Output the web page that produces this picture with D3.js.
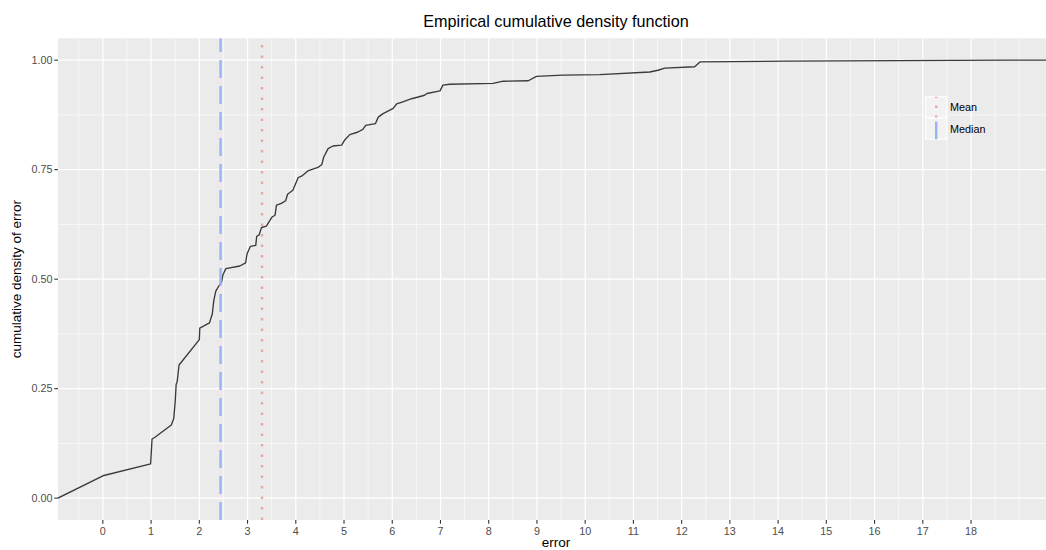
<!DOCTYPE html>
<html lang="en">
  <head>
    <meta charset="UTF-8" />
    <title>Empirical cumulative density function</title>
    <script src="https://d3js.org/d3.v7.min.js"></script>
    <style>
      body {
        margin: 0;
        background: #fff;
      }
      text {
        font-family: "Liberation Sans", Arial, Helvetica, sans-serif;
      }
      .tick-label {
        font-size: 10.8px;
        fill: #4d4d4d;
      }
      .axis-title {
        font-size: 13.5px;
        fill: #000;
      }
      .chart-title {
        font-size: 16.2px;
        fill: #000;
        text-anchor: middle;
      }
      .legend-label {
        font-size: 10.8px;
        fill: #000;
      }
    </style>
  </head>
  <body>
    <svg id="chart" width="1046" height="550"></svg>

    <script>
      // ECDF of error; -Infinity / Infinity pad the ends like stat_ecdf
      var errorValues = [
        -Infinity, 0.0, 0.99, 1.02, 1.08, 1.42, 1.47, 1.5, 1.52, 1.54, 1.58,
        2.0, 2.01, 2.21, 2.23, 2.27, 2.3, 2.34, 2.39, 2.46, 2.49, 2.55, 2.84,
        2.96, 2.99, 3.06, 3.17, 3.19, 3.24, 3.29, 3.39, 3.45, 3.51, 3.57, 3.6,
        3.7, 3.79, 3.83, 3.94, 4.05, 4.12, 4.25, 4.46, 4.54, 4.58, 4.67, 4.77,
        4.95, 5.01, 5.12, 5.29, 5.39, 5.45, 5.65, 5.71, 5.81, 6.02, 6.09, 6.22,
        6.4, 6.54, 6.67, 6.72, 6.99, 7.05, 7.19, 8.09, 8.3, 8.82, 8.99, 9.54,
        10.3, 11.34, 11.51, 11.65, 12.27, 12.38, 14.18, 18.78, Infinity
      ];
      var cumDensity = [
        0, 0.051, 0.078, 0.135, 0.139, 0.167, 0.182, 0.22, 0.26, 0.265, 0.304,
        0.362, 0.388, 0.4, 0.407, 0.421, 0.451, 0.472, 0.482, 0.493, 0.51,
        0.524, 0.53, 0.537, 0.558, 0.575, 0.577, 0.598, 0.601, 0.618, 0.621,
        0.632, 0.642, 0.646, 0.669, 0.673, 0.679, 0.694, 0.703, 0.732, 0.735,
        0.747, 0.755, 0.762, 0.779, 0.798, 0.804, 0.806, 0.817, 0.83, 0.836,
        0.842, 0.851, 0.855, 0.87, 0.878, 0.89, 0.9, 0.905, 0.912, 0.916, 0.92,
        0.924, 0.93, 0.943, 0.945, 0.947, 0.952, 0.953, 0.963, 0.966, 0.967,
        0.973, 0.977, 0.982, 0.985, 0.996, 0.998, 1.0, 1.0
      ];

      var meanError = 3.3;
      var medianError = 2.44;

      var xTicks = d3.range(0, 19); // 0 .. 18
      var yTicks = [0, 0.25, 0.5, 0.75, 1];
      var legendLabels = ["Mean", "Median"];

      var svg = d3.select("#chart");
      var panel = { left: 58, right: 1054, top: 38.3, bottom: 520 };

      var x = d3.scaleLinear().domain([-0.93, 19.72]).range([panel.left, panel.right]).clamp(true);
      var y = d3.scaleLinear().domain([-0.05, 1.05]).range([panel.bottom, panel.top]);

      // panel background
      svg.append("rect")
        .attr("x", panel.left)
        .attr("y", panel.top)
        .attr("width", panel.right - panel.left)
        .attr("height", panel.bottom - panel.top)
        .attr("fill", "#ebebeb");

      svg.append("clipPath").attr("id", "clip")
        .append("rect")
        .attr("x", panel.left)
        .attr("y", panel.top)
        .attr("width", panel.right - panel.left)
        .attr("height", panel.bottom - panel.top);

      var g = svg.append("g").attr("clip-path", "url(#clip)");

      // minor grid
      var xMinor = d3.range(-0.5, 19.01, 0.5).filter(function (d) { return d % 1 !== 0 || d > 18; });
      var yMinor = [0.125, 0.375, 0.625, 0.875];
      g.selectAll(".xminor").data(xMinor).enter().append("line")
        .attr("x1", function (d) { return x(d); })
        .attr("x2", function (d) { return x(d); })
        .attr("y1", panel.top).attr("y2", panel.bottom)
        .attr("stroke", "#fff").attr("stroke-width", 0.6);
      g.selectAll(".yminor").data(yMinor).enter().append("line")
        .attr("y1", function (d) { return y(d); })
        .attr("y2", function (d) { return y(d); })
        .attr("x1", panel.left).attr("x2", panel.right)
        .attr("stroke", "#fff").attr("stroke-width", 0.6);

      // major grid
      g.selectAll(".xmajor").data(xTicks).enter().append("line")
        .attr("x1", function (d) { return x(d); })
        .attr("x2", function (d) { return x(d); })
        .attr("y1", panel.top).attr("y2", panel.bottom)
        .attr("stroke", "#fff").attr("stroke-width", 1.2);
      g.selectAll(".ymajor").data(yTicks).enter().append("line")
        .attr("y1", function (d) { return y(d); })
        .attr("y2", function (d) { return y(d); })
        .attr("x1", panel.left).attr("x2", panel.right)
        .attr("stroke", "#fff").attr("stroke-width", 1.2);

      // ECDF line
      var pts = errorValues.map(function (v, i) { return [v, cumDensity[i]]; });
      var line = d3.line()
        .x(function (d) { return x(d[0]); })
        .y(function (d) { return y(d[1]); });
      g.append("path")
        .datum(pts)
        .attr("d", line)
        .attr("fill", "none")
        .attr("stroke", "#3a3a3a")
        .attr("stroke-width", 1.35)
        .attr("stroke-linejoin", "round");

      // median (dashed) and mean (dotted)
      g.append("line")
        .attr("x1", x(medianError)).attr("x2", x(medianError))
        .attr("y1", panel.bottom).attr("y2", panel.top)
        .attr("stroke", "#98b4f6")
        .attr("stroke-width", 2.4)
        .attr("stroke-dasharray", "18,8");
      g.append("line")
        .attr("x1", x(meanError)).attr("x2", x(meanError))
        .attr("y1", panel.bottom).attr("y2", panel.top)
        .attr("stroke", "#f3a39e")
        .attr("stroke-width", 2.4)
        .attr("stroke-dasharray", "2.5,8");

      // axes
      var xAxis = svg.append("g");
      xAxis.selectAll("line").data(xTicks).enter().append("line")
        .attr("x1", function (d) { return x(d); })
        .attr("x2", function (d) { return x(d); })
        .attr("y1", panel.bottom).attr("y2", panel.bottom + 3.7)
        .attr("stroke", "#333").attr("stroke-width", 1.1);
      xAxis.selectAll("text").data(xTicks).enter().append("text")
        .attr("class", "tick-label")
        .attr("x", function (d) { return x(d); })
        .attr("y", 534.5)
        .attr("text-anchor", "middle")
        .text(function (d) { return d; });

      var yAxis = svg.append("g");
      yAxis.selectAll("line").data(yTicks).enter().append("line")
        .attr("y1", function (d) { return y(d); })
        .attr("y2", function (d) { return y(d); })
        .attr("x1", panel.left - 3.7).attr("x2", panel.left)
        .attr("stroke", "#333").attr("stroke-width", 1.1);
      yAxis.selectAll("text").data(yTicks).enter().append("text")
        .attr("class", "tick-label")
        .attr("x", panel.left - 5.5)
        .attr("y", function (d) { return y(d) + 3.8; })
        .attr("text-anchor", "end")
        .text(function (d) { return d3.format(".2f")(d); });

      // titles
      svg.append("text")
        .attr("class", "chart-title")
        .attr("x", (panel.left + panel.right) / 2)
        .attr("y", 26.5)
        .text("Empirical cumulative density function");

      svg.append("text")
        .attr("class", "axis-title")
        .attr("x", (panel.left + panel.right) / 2)
        .attr("y", 546.5)
        .attr("text-anchor", "middle")
        .text("error");

      svg.append("text")
        .attr("class", "axis-title")
        .attr("transform", "translate(21," + (panel.top + panel.bottom) / 2 + ") rotate(-90)")
        .attr("text-anchor", "middle")
        .text("cumulative density of error");

      // legend
      var legend = svg.append("g").attr("transform", "translate(925.7,96.7)");
      var items = legend.selectAll(".legend-item")
        .data(legendLabels)
        .enter()
        .append("g")
        .attr("transform", function (d, i) { return "translate(0," + i * 21.3 + ")"; });

      items.append("rect")
        .attr("width", 21)
        .attr("height", 21.3)
        .attr("fill", "#f2f2f2")
        .attr("stroke", "#fff")
        .attr("stroke-width", 1);

      items.append("line")
        .attr("x1", 10.5).attr("x2", 10.5)
        .attr("y1", 21.3)
        .attr("y2", function (d) { return d === "Mean" ? 0 : 3.5; })
        .attr("stroke", function (d) { return d === "Mean" ? "#f3a39e" : "#98b4f6"; })
        .attr("stroke-width", 2.4)
        .attr("stroke-dasharray", function (d) { return d === "Mean" ? "2.5,7.5" : "18,8"; });

      items.append("text")
        .attr("class", "legend-label")
        .attr("x", 24.3)
        .attr("y", 14.8)
        .text(function (d) { return d; });
    </script>
  </body>
</html>
